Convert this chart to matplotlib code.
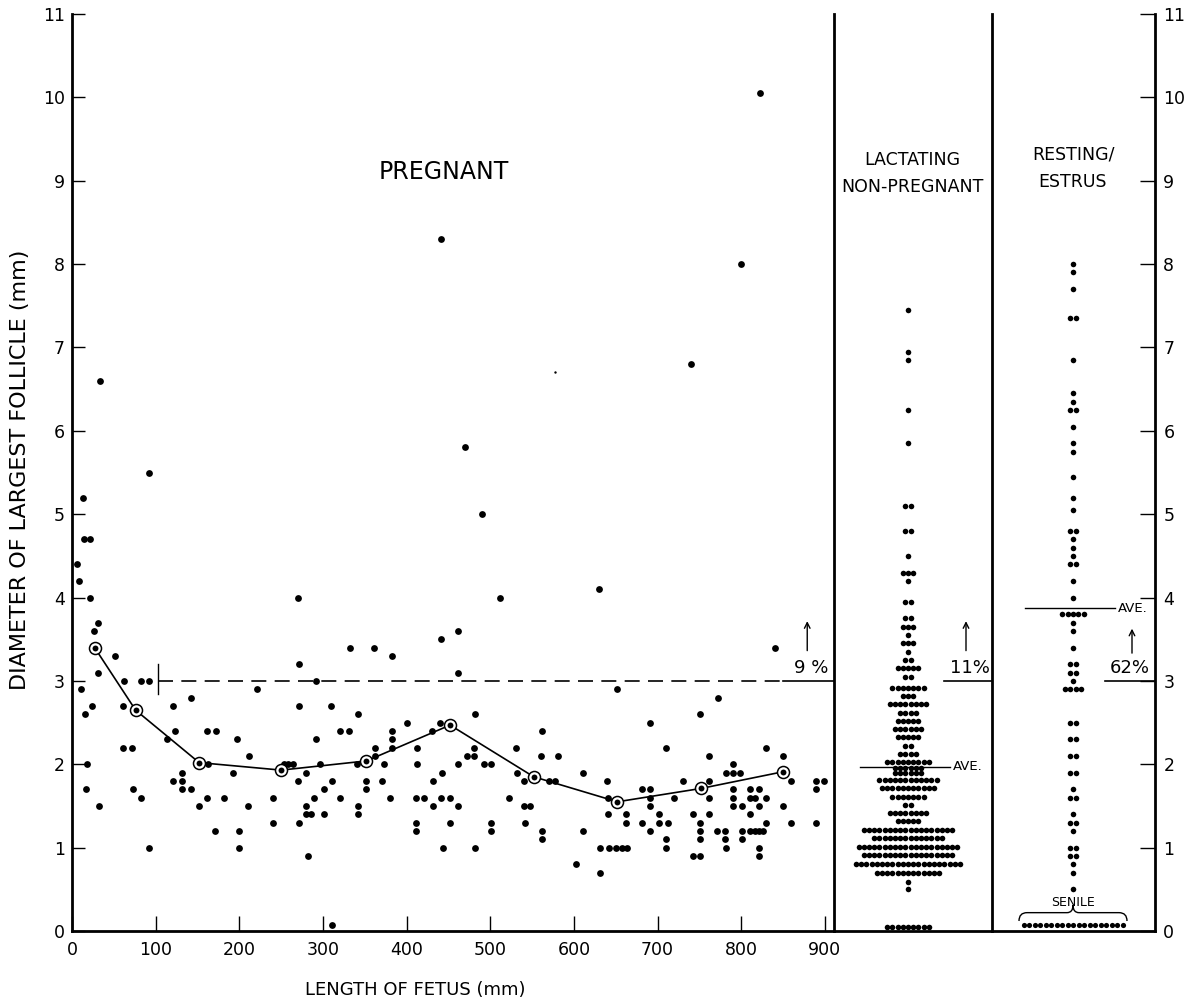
import numpy as np
import matplotlib
matplotlib.use("Agg")
import matplotlib.pyplot as plt
from matplotlib.path import Path
from matplotlib.patches import PathPatch

plt.rcParams['font.family'] = ['DejaVu Sans']

# ---------------- data ----------------
# Pregnant: fetus length (mm) vs diameter of largest follicle (mm)
preg_x = [11, 16, 17.5, 17, 24, 26, 31, 31, 32, 51, 62, 61, 61, 72, 73, 82, 92, 82, 92,
          113, 121, 123, 121, 131, 131, 131, 142, 142, 152, 161, 172, 162, 161, 171, 182,
          192, 197, 200, 200, 211, 212, 221, 240, 240, 253, 258, 264, 271, 271, 270, 271,
          282, 280, 280, 280, 286, 289, 292, 292, 296, 301, 301, 310, 311, 321, 321, 331,
          332, 342, 341, 342, 342, 351, 351, 361, 362, 362, 373, 371, 380, 382, 382, 382,
          382, 401, 412, 412, 411, 421, 411, 411, 430, 431, 431, 441, 440, 442, 441, 443,
          452, 452, 461, 461, 461, 462, 472, 481, 481, 482, 482, 492, 501, 501, 501, 522,
          531, 532, 540, 540, 547, 541, 562, 561, 562, 562, 570, 577, 581, 602,
          840, 652, 772, 751, 691, 710, 762, 830, 850, 611, 640, 641, 641, 662, 662, 631,
          642, 650, 657, 664, 611, 631, 681, 691, 691, 691, 681, 691, 702, 702, 712, 710,
          710, 720, 731, 742, 751, 751, 751, 742, 751, 761, 761, 761, 771, 781, 781, 782,
          782, 790, 790, 799, 790, 790, 790, 801, 801, 801, 811, 811, 817, 821, 811, 811,
          817, 821, 826, 821, 821, 821, 830, 830, 850, 860, 860, 889, 889, 899, 890,
          33, 92, 13, 14, 22, 6, 8, 22, 441, 822, 800, 470, 490, 740, 512, 630, 270, 311]
preg_y = [2.9, 2.6, 2.0, 1.7, 2.7, 3.6, 3.7, 3.1, 1.5, 3.3, 3.0, 2.7, 2.2, 2.2, 1.7, 3.0, 3.0, 1.6, 1.0,
          2.3, 2.7, 2.4, 1.8, 1.9, 1.8, 1.7, 2.8, 1.7, 1.5, 2.4, 2.4, 2.0, 1.6, 1.2, 1.6,
          1.9, 2.3, 1.2, 1.0, 1.5, 2.1, 2.9, 1.6, 1.3, 2.0, 2.0, 2.0, 3.2, 2.7, 1.8, 1.3,
          0.9, 1.9, 1.5, 1.4, 1.4, 1.6, 2.3, 3.0, 2.0, 1.7, 1.4, 2.7, 1.8, 2.4, 1.6, 2.4,
          3.4, 2.6, 2.0, 1.5, 1.4, 1.8, 1.7, 3.4, 2.2, 2.1, 2.0, 1.8, 1.6, 3.3, 2.4, 2.3,
          2.2, 2.5, 2.2, 2.0, 1.6, 1.6, 1.3, 1.2, 2.4, 1.8, 1.5, 3.5, 2.5, 1.9, 1.6, 1.0,
          1.6, 1.3, 3.6, 3.1, 2.0, 1.5, 2.1, 2.2, 2.1, 2.6, 1.0, 2.0, 2.0, 1.3, 1.2, 1.6,
          2.2, 1.9, 1.8, 1.5, 1.5, 1.3, 2.4, 2.1, 1.2, 1.1, 1.8, 1.8, 2.1, 0.8,
          3.4, 2.9, 2.8, 2.6, 2.5, 2.2, 2.1, 2.2, 2.1, 1.9, 1.8, 1.6, 1.4, 1.4, 1.3, 1.0,
          1.0, 1.0, 1.0, 1.0, 1.2, 0.7, 1.7, 1.7, 1.6, 1.5, 1.3, 1.2, 1.4, 1.3, 1.3, 1.1,
          1.0, 1.6, 1.8, 1.4, 1.3, 1.2, 1.1, 0.9, 0.9, 1.8, 1.6, 1.4, 1.2, 1.2, 1.1, 1.0,
          1.9, 2.0, 1.9, 1.9, 1.7, 1.6, 1.5, 1.5, 1.2, 1.1, 1.7, 1.6, 1.6, 1.7, 1.4, 1.2,
          1.2, 1.2, 1.2, 1.5, 1.0, 0.9, 1.6, 1.3, 1.5, 1.8, 1.3, 1.8, 1.7, 1.8, 1.3,
          6.6, 5.5, 5.2, 4.7, 4.7, 4.4, 4.2, 4.0, 8.3, 10.05, 8.0, 5.8, 5.0, 6.8, 4.0, 4.1, 4.0, 0.07]
speck_x = [578]
speck_y = [6.7]

# Group means (circled points joined by line)
mean_x = [27, 76, 152, 250, 352, 452, 552, 652, 752, 850]
mean_y = [3.40, 2.65, 2.02, 1.93, 2.04, 2.47, 1.85, 1.55, 1.71, 1.91]

# Lactating non-pregnant: follicle diameter values and number of animals at each value
lact_vals = [7.45, 6.95, 6.85, 6.25, 5.85, 5.1, 4.8, 4.5, 4.3, 4.2, 3.95, 3.75, 3.65, 3.55,
             3.45, 3.35, 3.25, 3.15, 3.05, 2.92, 2.82, 2.72, 2.62, 2.52, 2.42, 2.33, 2.22,
             2.12, 2.03, 1.95, 1.89, 1.81, 1.72, 1.61, 1.51, 1.41, 1.32, 1.21, 1.11, 1.01,
             0.91, 0.80, 0.70, 0.59, 0.50, 0.05]
lact_cnts = [1, 1, 1, 1, 1, 2, 2, 1, 3, 1, 2, 2, 3, 1,
             3, 1, 2, 5, 2, 7, 3, 8, 4, 5, 6, 5, 2,
             4, 9, 6, 6, 12, 11, 7, 2, 8, 5, 18, 14, 20,
             18, 21, 13, 1, 1, 9]

# Resting / estrus
rest_vals = [8.0, 7.9, 7.7, 7.35, 6.85, 6.45, 6.35, 6.25, 6.05, 5.85, 5.75, 5.45, 5.2, 5.05,
             4.8, 4.7, 4.6, 4.5, 4.4, 4.2, 4.0, 3.8, 3.7, 3.6, 3.4, 3.2, 3.1, 3.0, 2.9,
             2.5, 2.3, 2.1, 1.9, 1.7, 1.6, 1.4, 1.3, 1.2, 1.0, 0.9, 0.8, 0.7, 0.5]
rest_cnts = [1, 1, 1, 2, 1, 1, 1, 2, 1, 1, 1, 1, 1, 1,
             2, 1, 1, 1, 2, 1, 1, 5, 1, 1, 1, 2, 2, 1, 4,
             2, 2, 2, 2, 1, 2, 1, 2, 1, 2, 2, 1, 1, 1]
senile_val = 0.07
senile_cnt = 19

lact_ave = 1.97
rest_ave = 3.87
threshold = 3.0
pct_labels = ["9 %", "11%", "62%"]

x_ticks = [0, 100, 200, 300, 400, 500, 600, 700, 800, 900]
y_ticks = list(range(0, 12))

# ---------------- figure ----------------
W, Hpx = 1188, 1007
fig = plt.figure(figsize=(W / 100, Hpx / 100), dpi=100)
B = 1 - 931 / Hpx
H = (931 - 14) / Hpx
ax1 = fig.add_axes([72 / W, B, (834 - 72) / W, H])
ax2 = fig.add_axes([834 / W, B, 158 / W, H])
ax3 = fig.add_axes([992 / W, B, 163 / W, H])

for ax in (ax1, ax2, ax3):
    ax.set_ylim(0, 11)
    ax.spines['top'].set_visible(False)
    ax.spines['right'].set_visible(False)
    ax.spines['left'].set_linewidth(2.0)
    ax.spines['bottom'].set_linewidth(2.0)
    ax.patch.set_alpha(0)

ax1.set_xlim(0, 911)
ax2.set_xlim(-74, 84)
ax3.set_xlim(-81, 82)
ax3.spines['right'].set_visible(True)
ax3.spines['right'].set_linewidth(2.0)

ax1.set_xticks(x_ticks)
ax1.set_yticks(y_ticks)
ax1.tick_params(axis='x', direction='in', length=11, width=1.0, labelsize=12.5, pad=7)
ax1.tick_params(axis='y', direction='in', length=9, width=1.0, labelsize=12.5, pad=5)
ax2.set_xticks([]); ax2.set_yticks([])
ax3.set_xticks([])
ax3.set_yticks(y_ticks)
ax3.yaxis.tick_right()
ax3.tick_params(axis='y', direction='in', length=11, width=1.0, labelsize=12.5, pad=6)

# ---- pregnant panel ----
ax1.scatter(preg_x, preg_y, s=24, color='black', zorder=3, linewidths=0)
ax1.scatter(speck_x, speck_y, s=3, color='black', zorder=3, linewidths=0)
ax1.plot(mean_x, mean_y, color='black', lw=1.2, zorder=4)
ax1.scatter(mean_x, mean_y, s=75, facecolor='white', edgecolor='black', linewidths=1.1, zorder=5)
ax1.scatter(mean_x, mean_y, s=18, color='black', zorder=6, linewidths=0)

ax1.plot([103, 850], [threshold, threshold], color='black', lw=1.2, dashes=(9, 5))
ax1.plot([850, 911], [threshold, threshold], color='black', lw=1.2)
ax1.plot([103, 103], [threshold - 0.16, threshold + 0.2], color='black', lw=1.0)
ax1.annotate('', xy=(879, 3.75), xytext=(879, 3.33),
             arrowprops=dict(arrowstyle='->', lw=1.0, color='black'))
ax1.text(884, 3.05, pct_labels[0], ha='center', va='bottom', fontsize=13)
ax1.text(444, 9.1, 'PREGNANT', ha='center', va='center', fontsize=17)


def swarm(vals, cnts, step):
    xs, ys = [], []
    for v, c in zip(vals, cnts):
        offs = (np.arange(c) - (c - 1) / 2.0) * step
        xs.extend(offs)
        ys.extend([v] * c)
    return np.array(xs), np.array(ys)


# ---- lactating panel ----
lx, ly = swarm(lact_vals, lact_cnts, 5.2)
ax2.scatter(lx, ly, s=16, color='black', linewidths=0, zorder=3)
ax2.plot([-48, 42], [lact_ave, lact_ave], color='black', lw=1.0)
ax2.text(45, lact_ave, 'AVE.', ha='left', va='center', fontsize=9.5)
ax2.plot([36, 84], [threshold, threshold], color='black', lw=1.2)
ax2.annotate('', xy=(58, 3.75), xytext=(58, 3.33),
             arrowprops=dict(arrowstyle='->', lw=1.0, color='black'))
ax2.text(62, 3.05, pct_labels[1], ha='center', va='bottom', fontsize=13)
ax2.text(4, 9.25, 'LACTATING', ha='center', va='center', fontsize=12.5)
ax2.text(4, 8.92, 'NON-PREGNANT', ha='center', va='center', fontsize=12.5)

# ---- resting panel ----
rx, ry = swarm(rest_vals, rest_cnts, 5.4)
ax3.scatter(rx, ry, s=16, color='black', linewidths=0, zorder=3)
sx, sy = swarm([senile_val], [senile_cnt], 5.5)
ax3.scatter(sx, sy, s=14, color='black', linewidths=0, zorder=3)
ax3.plot([-48, 42], [rest_ave, rest_ave], color='black', lw=1.0)
ax3.text(45, rest_ave, 'AVE.', ha='left', va='center', fontsize=9.5)
ax3.plot([32, 82], [threshold, threshold], color='black', lw=1.2)
ax3.annotate('', xy=(59, 3.66), xytext=(59, 3.30),
             arrowprops=dict(arrowstyle='->', lw=1.0, color='black'))
ax3.text(57, 3.05, pct_labels[2], ha='center', va='bottom', fontsize=13)
ax3.text(0, 9.32, 'RESTING/', ha='center', va='center', fontsize=12.5)
ax3.text(0, 8.99, 'ESTRUS', ha='center', va='center', fontsize=12.5)
ax3.text(0, 0.34, 'SENILE', ha='center', va='center', fontsize=9)

# curly brace over senile row
bl, br, yb, yt = -54, 54, 0.12, 0.26
verts = [(bl, yb), (bl, yt - 0.04), (bl + 8, yt - 0.04),
         (-6, yt - 0.04), (0, yt - 0.04), (0, yt + 0.05),
         (0, yt - 0.04), (6, yt - 0.04),
         (br - 8, yt - 0.04), (br, yt - 0.04), (br, yb)]
codes = [Path.MOVETO, Path.CURVE3, Path.CURVE3,
         Path.LINETO, Path.CURVE3, Path.CURVE3,
         Path.CURVE3, Path.CURVE3,
         Path.LINETO, Path.CURVE3, Path.CURVE3]
ax3.add_patch(PathPatch(Path(verts, codes), facecolor='none', edgecolor='black', lw=1.0))

# axis labels
fig.text(20 / W, 1 - 470 / Hpx, 'DIAMETER OF LARGEST FOLLICLE (mm)', rotation=90,
         ha='center', va='center', fontsize=16)
fig.text(415 / W, 1 - 990 / Hpx, 'LENGTH OF FETUS (mm)', ha='center', va='center', fontsize=13)

fig.savefig('out.png', dpi=100)
